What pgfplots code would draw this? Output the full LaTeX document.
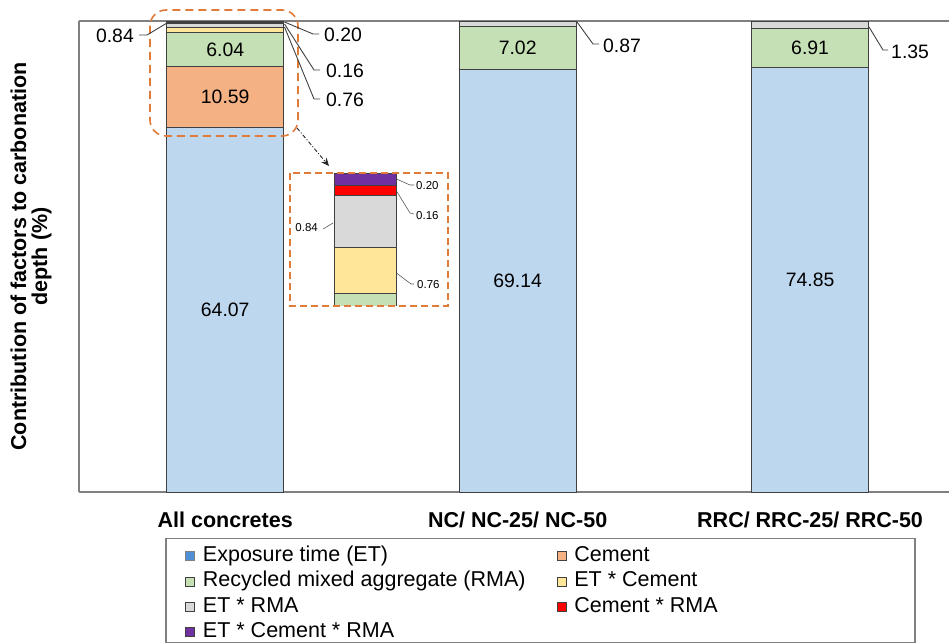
\documentclass[border=0pt]{standalone}
\usepackage{pgfplots}
\pgfplotsset{compat=1.18}
\usepackage{pgfplotstable}
\usepackage{fontspec}
\setmainfont{Liberation Sans}
\usetikzlibrary{arrows.meta}

\definecolor{cET}{HTML}{BDD7EE}
\definecolor{cETkey}{HTML}{4F8FD6}
\definecolor{cCem}{HTML}{F4B183}
\definecolor{cRMA}{HTML}{C5E0B4}
\definecolor{cETCem}{HTML}{FFE699}
\definecolor{cETRMA}{HTML}{D9D9D9}
\definecolor{cCemRMA}{HTML}{FF0000}
\definecolor{cAll}{HTML}{7030A0}
\definecolor{zoomline}{HTML}{E07B39}
\definecolor{framegray}{HTML}{808080}
\definecolor{edge}{HTML}{404040}

% contribution (%) of each factor to carbonation depth, per group of concretes
\pgfplotstableread{
x  ET     Cem    RMA   ETCem  ETRMA  CemRMA  ETCemRMA
0  64.07  10.59  6.04  0.76   0.84   0.16    0.20
1  69.14  0      7.02  0      0.87   0       0
2  74.85  0      6.91  0      1.35   0       0
}\contrib

% every column is drawn as a share of the explained total
\newcommand\tot{(\thisrow{ET}+\thisrow{Cem}+\thisrow{RMA}+\thisrow{ETCem}+\thisrow{ETRMA}+\thisrow{CemRMA}+\thisrow{ETCemRMA})}
\newcommand\share[1]{100*(#1)/\tot}

\newcommand\numfont{\fontsize{19.4}{22}\selectfont}
\newcommand\catfont{\fontsize{21.5}{21}\selectfont\bfseries}
\newcommand\keyfont{\fontsize{21.5}{25}\selectfont}
\newcommand\smallnum{\fontsize{11.5}{13}\selectfont}

\pgfplotsset{
  keybox/.style={legend image code/.code={\draw[##1] (0pt,-4.5pt) rectangle (9pt,4.5pt);}},
  segment/.style={draw=edge, line width=0.8pt},
  midlabel/.style={only marks, mark=*, mark size=0pt, mark options={draw=none, fill=none}},
}

\begin{document}
\begin{tikzpicture}
\useasboundingbox (-79pt,-151pt) rectangle (870pt,492pt);

% main stacked columns
\begin{axis}[
  at={(0pt,0pt)}, anchor=south west,
  scale only axis, width=870pt, height=471pt,
  xmin=-0.5, xmax=2.475, ymin=0, ymax=100,
  ybar stacked, bar width=0.4,
  axis x line*=box, axis y line*=left,
  axis line style={framegray, line width=1.1pt},
  xtick={0,1,2},
  xticklabels={All concretes, NC/ NC-25/ NC-50, RRC/ RRC-25/ RRC-50},
  xticklabel style={font=\catfont, anchor=base, yshift=-35pt},
  major tick length=0pt,
  ytick=\empty,
  ylabel={Contribution of factors to carbonation\\depth (\%)},
  every axis y label/.style={at={(axis description cs:-0.0552,0.5)}, rotate=90,
    anchor=center, align=center, font=\catfont},
  legend columns=2,
  legend style={at={(axis description cs:0.1218,-0.1105)}, anchor=north west,
    draw=none, fill=none, font=\keyfont, inner sep=0pt, row sep=1.2pt,
    nodes={inner sep=2pt, text height=15.5pt, text depth=4.5pt},
    /tikz/every odd column/.append style={column sep=6pt},
    /tikz/every even column/.append style={column sep=29pt}},
  legend cell align=left,
]
\addplot[segment, fill=cET,
  legend image code/.code={\draw[fill=cETkey, draw=framegray] (0pt,-4.5pt) rectangle (9pt,4.5pt);}]
  table[x=x, y expr=\share{\thisrow{ET}}] {\contrib};
\addlegendentry{Exposure time (ET)}
\addplot[segment, fill=cCem, keybox] table[x=x, y expr=\share{\thisrow{Cem}}] {\contrib};
\addlegendentry{Cement}
\addplot[segment, fill=cRMA, keybox] table[x=x, y expr=\share{\thisrow{RMA}}] {\contrib};
\addlegendentry{Recycled mixed aggregate (RMA)}
\addplot[segment, fill=cETCem, keybox] table[x=x, y expr=\share{\thisrow{ETCem}}] {\contrib};
\addlegendentry{ET * Cement}
\addplot[segment, fill=cETRMA, keybox] table[x=x, y expr=\share{\thisrow{ETRMA}}] {\contrib};
\addlegendentry{ET * RMA}
\addplot[segment, fill=cCemRMA, keybox] table[x=x, y expr=\share{\thisrow{CemRMA}}] {\contrib};
\addlegendentry{Cement * RMA}
\addplot[segment, fill=cAll, keybox] table[x=x, y expr=\share{\thisrow{ETCemRMA}}] {\contrib};
\addlegendentry{ET * Cement * RMA}
\end{axis}

% values written in the middle of the large segments
\begin{axis}[
  at={(0pt,0pt)}, anchor=south west,
  scale only axis, width=870pt, height=471pt,
  xmin=-0.5, xmax=2.475, ymin=0, ymax=100, hide axis,
  point meta=explicit,
  nodes near coords={\pgfmathprintnumber[fixed,fixed zerofill,precision=2,assume math mode=true]{\pgfplotspointmeta}},
  every node near coord/.append style={anchor=center, font=\numfont, text=black},
]
\addplot[midlabel]
  table[x=x, y expr=\share{\thisrow{ET}/2}, meta=ET] {\contrib};
\addplot[midlabel, restrict x to domain=-0.5:0.5]
  table[x=x, y expr=\share{\thisrow{ET}+\thisrow{Cem}/2}, meta=Cem] {\contrib};
\addplot[midlabel]
  table[x=x, y expr=\share{\thisrow{ET}+\thisrow{Cem}+\thisrow{RMA}/2}, meta=RMA] {\contrib};
\end{axis}

% enlarged top of the first column
\begin{axis}[
  at={(253.1pt,186pt)}, anchor=south west,
  scale only axis, width=65.7pt, height=133pt,
  xmin=-0.53, xmax=0.53, ymin=80.5, ymax=82.67, hide axis,
  ybar stacked, bar width=1,
  restrict x to domain=-0.5:0.5,
]
\addplot[segment, fill=cET] table[x=x, y=ET] {\contrib};
\addplot[segment, fill=cCem] table[x=x, y=Cem] {\contrib};
\addplot[segment, fill=cRMA] table[x=x, y=RMA] {\contrib};
\addplot[segment, fill=cETCem] table[x=x, y=ETCem] {\contrib};
\addplot[segment, fill=cETRMA] table[x=x, y=ETRMA] {\contrib};
\addplot[segment, fill=cCemRMA] table[x=x, y=CemRMA] {\contrib};
\addplot[segment, fill=cAll] table[x=x, y=ETCemRMA] {\contrib};
\end{axis}

% call-outs, zoom frames and legend frame
\begin{scope}[x=1pt, y=-1pt, shift={(-79pt,492pt)},
  leader/.style={draw=black!75, line width=0.9pt},
  thin leader/.style={draw=black!65, line width=0.6pt},
  lab/.style={inner sep=0pt, font=\numfont},
  slab/.style={inner sep=0pt, font=\smallnum}]
  \draw[zoomline, line width=1.6pt, dash pattern=on 8pt off 5pt, rounded corners=16pt]
    (150,10) rectangle (298,136);
  \draw[zoomline, line width=1.5pt, dash pattern=on 7pt off 4pt]
    (290,173) rectangle (448,306);
  \draw[black!85, line width=0.9pt, dash pattern=on 4pt off 2pt on 1pt off 2pt,
    -{Stealth[length=8pt,width=7pt]}] (297,128) -- (329,166);

  \draw[leader] (167,23) -- (147,35) -- (139,35);
  \node[lab, anchor=east] at (134,36) {0.84};
  \draw[leader] (284.5,22) -- (313,34) -- (319,34);
  \node[lab, anchor=west] at (324,35) {0.20};
  \draw[leader] (284.5,24) -- (314,70) -- (320,70);
  \node[lab, anchor=west] at (326,71) {0.16};
  \draw[leader] (284.5,27) -- (314,99) -- (320,99);
  \node[lab, anchor=west] at (326,100) {0.76};
  \draw[leader] (577,22) -- (593,44) -- (599,44);
  \node[lab, anchor=west] at (603,46) {0.87};
  \draw[leader] (869,27) -- (883,50) -- (888,50);
  \node[lab, anchor=west] at (891,52) {1.35};

  \draw[thin leader] (333,223) -- (323,229);
  \node[slab, anchor=east] at (318,228) {0.84};
  \draw[thin leader] (396.5,179) -- (410,185) -- (414,185);
  \node[slab, anchor=west] at (416,186) {0.20};
  \draw[thin leader] (396.5,191) -- (410,213) -- (414,214);
  \node[slab, anchor=west] at (416,216) {0.16};
  \draw[thin leader] (396.5,273) -- (411,284) -- (414,284);
  \node[slab, anchor=west] at (417,285) {0.76};

  \draw[framegray, line width=1.1pt] (166,538.5) rectangle (915,642.5);
\end{scope}
\end{tikzpicture}
\end{document}
